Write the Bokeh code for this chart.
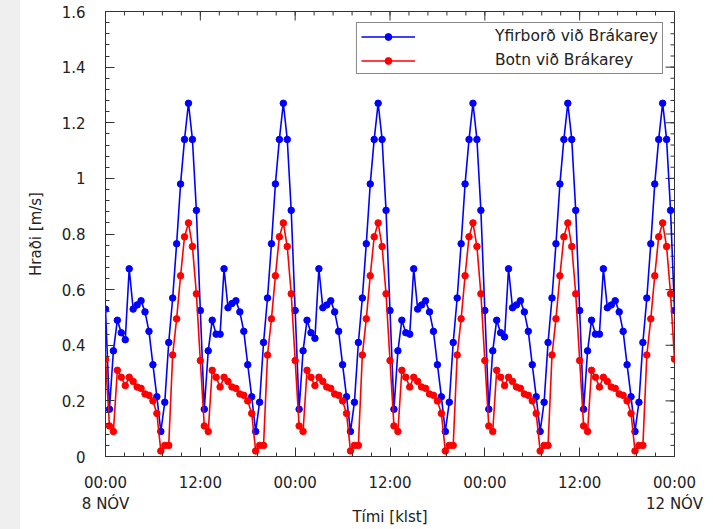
from bokeh.plotting import figure
from bokeh.models import FixedTicker, Legend, LegendItem, Range1d
from bokeh.embed import file_html
from bokeh.resources import INLINE

# time in hours from 00:00 8 NÓV (half-hour samples)
hours = [i * 0.5 for i in range(145)]

# Yfirborð við Brákarey (surface speed, m/s)
surface_speed = [
    0.53, 0.17, 0.38, 0.49, 0.445, 0.42, 0.675, 0.53, 0.545, 0.56, 0.52, 0.45,
    0.33, 0.215, 0.09, 0.195, 0.41, 0.57, 0.765, 0.98, 1.14, 1.27, 1.14, 0.885,
    0.525, 0.17, 0.38, 0.49, 0.44, 0.44, 0.675, 0.535, 0.55, 0.56, 0.52, 0.45,
    0.33, 0.215, 0.09, 0.195, 0.41, 0.57, 0.765, 0.98, 1.14, 1.27, 1.14, 0.885,
    0.525, 0.17, 0.38, 0.49, 0.445, 0.425, 0.675, 0.535, 0.545, 0.56, 0.52, 0.45,
    0.33, 0.215, 0.09, 0.195, 0.41, 0.57, 0.765, 0.98, 1.14, 1.27, 1.14, 0.885,
    0.525, 0.17, 0.38, 0.49, 0.445, 0.44, 0.675, 0.53, 0.545, 0.56, 0.52, 0.45,
    0.33, 0.215, 0.09, 0.195, 0.41, 0.57, 0.765, 0.98, 1.14, 1.27, 1.14, 0.885,
    0.525, 0.17, 0.38, 0.49, 0.445, 0.43, 0.675, 0.535, 0.545, 0.56, 0.52, 0.45,
    0.33, 0.215, 0.09, 0.195, 0.41, 0.57, 0.765, 0.98, 1.14, 1.27, 1.14, 0.885,
    0.525, 0.17, 0.38, 0.49, 0.44, 0.44, 0.675, 0.535, 0.545, 0.56, 0.52, 0.45,
    0.33, 0.215, 0.09, 0.195, 0.41, 0.57, 0.765, 0.98, 1.14, 1.27, 1.14, 0.885,
    0.525,
]

# Botn við Brákarey (bottom speed, m/s)
bottom_speed = [
    0.35, 0.11, 0.09, 0.31, 0.285, 0.255, 0.285, 0.27, 0.25, 0.245, 0.225, 0.22,
    0.2, 0.155, 0.02, 0.04, 0.04, 0.365, 0.495, 0.65, 0.79, 0.84, 0.755, 0.585,
    0.345, 0.11, 0.09, 0.31, 0.285, 0.25, 0.285, 0.27, 0.25, 0.245, 0.225, 0.22,
    0.2, 0.155, 0.02, 0.04, 0.04, 0.365, 0.495, 0.65, 0.79, 0.84, 0.755, 0.585,
    0.345, 0.11, 0.09, 0.31, 0.285, 0.255, 0.285, 0.27, 0.25, 0.245, 0.225, 0.22,
    0.2, 0.155, 0.02, 0.04, 0.04, 0.365, 0.495, 0.65, 0.79, 0.84, 0.755, 0.585,
    0.345, 0.11, 0.09, 0.31, 0.285, 0.25, 0.285, 0.27, 0.25, 0.245, 0.225, 0.22,
    0.2, 0.155, 0.02, 0.04, 0.04, 0.365, 0.495, 0.65, 0.79, 0.84, 0.755, 0.585,
    0.345, 0.11, 0.09, 0.31, 0.285, 0.255, 0.285, 0.27, 0.25, 0.245, 0.225, 0.22,
    0.2, 0.155, 0.02, 0.04, 0.04, 0.365, 0.495, 0.65, 0.79, 0.84, 0.755, 0.585,
    0.345, 0.11, 0.09, 0.31, 0.285, 0.25, 0.285, 0.27, 0.25, 0.245, 0.225, 0.22,
    0.2, 0.155, 0.02, 0.04, 0.04, 0.365, 0.495, 0.65, 0.79, 0.84, 0.755, 0.585,
    0.35,
]

series_names = ["Yfirborð við Brákarey", "Botn við Brákarey"]
series_colors = ["#0000ff", "#ff0000"]

x_tick_hours = [0, 12, 24, 36, 48, 60, 72]
x_tick_labels = ["00:00\n8 NÓV", "12:00", "00:00", "12:00", "00:00", "12:00", "00:00\n12 NÓV"]
x_minor = [i * 2.4 for i in range(31)]
y_ticks = [0, 0.2, 0.4, 0.6, 0.8, 1, 1.2, 1.4, 1.6]
y_tick_labels = ["0", "0.2", "0.4", "0.6", "0.8", "1", "1.2", "1.4", "1.6"]
y_minor = [i * 0.04 for i in range(41)]

X0, X1 = 0, 72
Y0, Y1 = 0, 1.6

FONT = "DejaVu Sans"
AX = "#333333"

p = figure(width=713, height=529, output_backend="svg", toolbar_location=None,
           x_range=Range1d(X0, X1), y_range=Range1d(Y0, Y1),
           min_border_left=105, min_border_right=39, min_border_top=11, min_border_bottom=64,
           x_axis_label="Tími [klst]", y_axis_label="Hraði [m/s]")
p.grid.visible = False
p.outline_line_color = AX
p.background_fill_color = "white"
p.border_fill_alpha = 0
p.styles = {"background": "linear-gradient(to right, #efefef 0px, #efefef 20px, #ffffff 20px)"}

xt = FixedTicker(ticks=x_tick_hours, minor_ticks=x_minor)
yt = FixedTicker(ticks=y_ticks, minor_ticks=y_minor)

def style(ax):
    ax.axis_line_color = AX
    ax.major_tick_line_color = AX
    ax.minor_tick_line_color = AX
    ax.major_tick_in = 9
    ax.major_tick_out = 0
    ax.minor_tick_in = 4
    ax.minor_tick_out = 0
    ax.major_label_text_font = FONT
    ax.major_label_text_font_size = "15px"
    ax.major_label_text_color = "#222222"
    ax.axis_label_text_font = FONT
    ax.axis_label_text_font_size = "15px"
    ax.axis_label_text_font_style = "normal"
    ax.axis_label_text_color = "#222222"

xa = p.xaxis[0]
xa.ticker = xt
xa.major_label_overrides = dict(zip(x_tick_hours, x_tick_labels))
style(xa)
xa.major_label_standoff = 17
xa.axis_label_standoff = -8

ya = p.yaxis[0]
ya.ticker = yt
ya.major_label_overrides = dict(zip(y_ticks, y_tick_labels))
style(ya)
ya.major_label_standoff = 20
ya.axis_label_standoff = 14

# mirrored tick marks on the top and right edges of the frame
p.ray(x=x_tick_hours, y=[Y1] * len(x_tick_hours), length=9, length_units="screen",
      angle=-90, angle_units="deg", line_color=AX, line_width=1)
p.ray(x=x_minor, y=[Y1] * len(x_minor), length=4, length_units="screen",
      angle=-90, angle_units="deg", line_color=AX, line_width=1)
p.ray(x=[X1] * len(y_ticks), y=y_ticks, length=9, length_units="screen",
      angle=180, angle_units="deg", line_color=AX, line_width=1)
p.ray(x=[X1] * len(y_minor), y=y_minor, length=4, length_units="screen",
      angle=180, angle_units="deg", line_color=AX, line_width=1)

items = []
for ys, name, col in zip([surface_speed, bottom_speed], series_names, series_colors):
    ln = p.line(hours, ys, line_color=col, line_width=1.6)
    sc = p.scatter(hours, ys, size=6.5, fill_color=col, line_color=col)
    items.append(LegendItem(label=name, renderers=[ln, sc]))

legend = Legend(items=items, location="top_right", margin=11, padding=4,
                spacing=6, glyph_width=54, glyph_height=17, label_height=17,
                label_width=160, label_standoff=80,
                label_text_font=FONT, label_text_font_size="15.5px",
                label_text_color="#222222",
                border_line_color="#111111", border_line_width=1,
                background_fill_alpha=1)
p.add_layout(legend)

open("out.html", "w").write(file_html(p, INLINE))
